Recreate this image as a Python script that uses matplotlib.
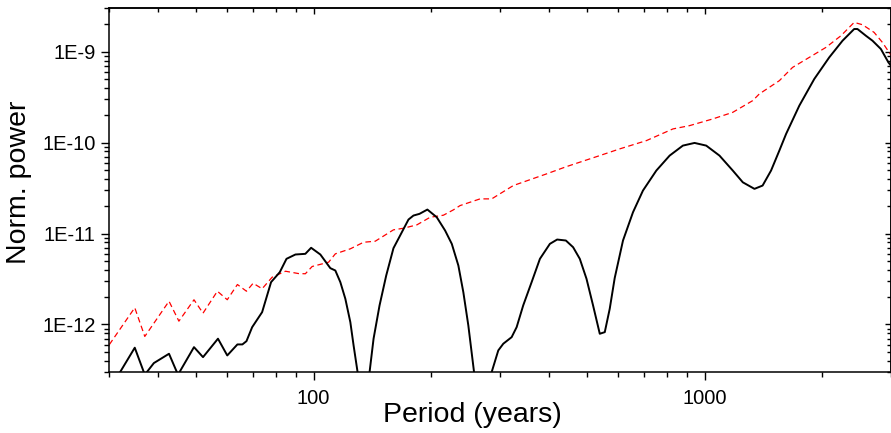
#!/usr/bin/env python3
"""Normalised power spectrum against period, with the red-noise reference."""

from __future__ import annotations

import numpy as np
import matplotlib

matplotlib.use("Agg")
import matplotlib.pyplot as plt
from matplotlib.ticker import FixedLocator, FuncFormatter, LogLocator, NullFormatter


OUTPUT_PATH = "out.png"

# spectrum (black, solid)
PERIOD_SPECTRUM = [
    30.0, 34.85, 36.97, 39.0, 42.64, 44.96, 49.4, 52.1, 56.9, 60.1,
    63.8, 65.7, 67.3, 69.6, 73.8, 77.8, 81.9, 85.2, 89.8, 95.2,
    98.5, 104.0, 110.3, 113.6, 117.0, 120.5, 124.1, 126.5, 129.5, 133.9,
    139.0, 142.3, 147.4, 153.3, 160.0, 166.4, 174.8, 180.0, 186.5, 195.4,
    206.5, 216.9, 225.6, 234.5, 241.5, 248.7, 257.2, 269.6, 285.4, 296.7,
    305.6, 321.0, 330.6, 343.6, 361.1, 379.2, 402.1, 419.7, 441.8, 461.1,
    479.6, 498.9, 518.6, 539.5, 555.6, 572.1, 589.1, 618.6, 656.1, 695.8,
    752.9, 814.3, 880.3, 943.0, 1010, 1092, 1181, 1253, 1342, 1408,
    1480, 1554, 1617, 1748, 1909, 2085, 2255, 2415, 2462, 2587,
    2690, 2826, 2955, 3050,
]
POWER_SPECTRUM = [
    1.9e-13, 5.55e-13, 2.8e-13, 3.76e-13, 4.76e-13, 2.8e-13, 5.63e-13, 4.37e-13, 6.97e-13, 4.56e-13,
    6.03e-13, 6.03e-13, 6.55e-13, 9.34e-13, 1.365e-12, 2.92e-12, 3.76e-12, 5.27e-12, 5.88e-12, 5.98e-12,
    6.97e-12, 5.88e-12, 4.16e-12, 3.92e-12, 2.92e-12, 1.916e-12, 1.06e-12, 5.88e-13, 3.0e-13, 5e-14,
    3.0e-13, 6.97e-13, 1.618e-12, 3.45e-12, 6.90e-12, 9.51e-12, 1.425e-11, 1.577e-11, 1.646e-11, 1.835e-11,
    1.51e-11, 1.079e-11, 7.70e-12, 4.45e-12, 2.26e-12, 9.75e-13, 3.0e-13, 5e-14, 3.0e-13, 5.18e-13,
    6.14e-13, 7.25e-13, 9.34e-13, 1.618e-12, 2.92e-12, 5.27e-12, 7.70e-12, 8.59e-12, 8.38e-12, 7.07e-12,
    5.27e-12, 3.18e-12, 1.618e-12, 7.90e-13, 8.23e-13, 1.488e-12, 3.24e-12, 8.38e-12, 1.714e-11, 2.97e-11,
    4.93e-11, 7.20e-11, 9.27e-11, 9.92e-11, 9.27e-11, 7.20e-11, 4.93e-11, 3.66e-11, 3.10e-11, 3.37e-11,
    4.93e-11, 8.17e-11, 1.246e-10, 2.55e-10, 5.01e-10, 8.66e-10, 1.321e-9, 1.776e-9, 1.776e-9, 1.499e-9,
    1.321e-9, 1.071e-9, 7.62e-10, 6.4e-10,
]

# reference level (red, dashed)
PERIOD_REFERENCE = [
    30.0, 34.85, 36.97, 42.64, 45.2, 49.4, 52.1, 56.7, 60.1, 63.8,
    67.3, 70.0, 73.8, 78.3, 84.7, 91.4, 95.2, 99.1, 109.2, 113.6,
    124.1, 134.2, 143.7, 160.0, 169.7, 183.7, 198.6, 214.7, 227.8, 236.9,
    266.5, 285.4, 324.1, 394.3, 443.6, 539.5, 606.7, 710, 830, 915.6,
    1050, 1181, 1328, 1381, 1554, 1680, 1854, 2045, 2234, 2415,
    2536, 2716, 2852, 2967, 3050,
]
POWER_REFERENCE = [
    6.0e-13, 1.527e-12, 7.38e-13, 1.80e-12, 1.087e-12, 1.868e-12, 1.331e-12, 2.32e-12, 1.87e-12, 2.75e-12,
    2.32e-12, 2.84e-12, 2.47e-12, 3.31e-12, 3.85e-12, 3.63e-12, 3.61e-12, 4.34e-12, 4.84e-12, 5.98e-12,
    6.79e-12, 8.02e-12, 8.23e-12, 1.098e-11, 1.143e-11, 1.246e-11, 1.51e-11, 1.59e-11, 1.822e-11, 2.03e-11,
    2.405e-11, 2.405e-11, 3.37e-11, 4.53e-11, 5.45e-11, 7.20e-11, 8.53e-11, 1.052e-10, 1.414e-10, 1.537e-10,
    1.822e-10, 2.153e-10, 2.894e-10, 3.43e-10, 4.8e-10, 6.72e-10, 8.66e-10, 1.115e-9, 1.499e-9, 2.10e-9,
    1.98e-9, 1.63e-9, 1.265e-9, 9.82e-10, 8.4e-10,
]

X_LIMITS = (30, 3000)
Y_LIMITS = (3e-13, 3e-9)
X_MAJOR = [100, 1000]
Y_MAJOR = [1e-12, 1e-11, 1e-10, 1e-9]
X_LABEL = "Period (years)"
Y_LABEL = "Norm. power"


def e_label(value: float, _pos: int) -> str:
    exponent = int(round(np.log10(value)))
    return f"1E{exponent}"


def set_log_locators(axis, majors: list[float]) -> None:
    axis.set_major_locator(FixedLocator(majors))
    axis.set_minor_locator(LogLocator(base=10, subs=np.arange(2, 10), numticks=20))
    axis.set_minor_formatter(NullFormatter())


def main() -> None:
    plt.rcParams["font.family"] = ["Liberation Sans", "DejaVu Sans"]

    fig = plt.figure(figsize=(8.91, 4.33), dpi=100)
    ax = fig.add_axes([0.1227, 0.1409, 0.8773, 0.8399])

    ax.plot(PERIOD_REFERENCE, POWER_REFERENCE, color="#ff0000", linewidth=0.9,
            dashes=(4.5, 2.8))
    ax.plot(PERIOD_SPECTRUM, POWER_SPECTRUM, color="black", linewidth=1.4)

    ax.set_xscale("log")
    ax.set_yscale("log")
    ax.set_xlim(*X_LIMITS)
    ax.set_ylim(*Y_LIMITS)

    set_log_locators(ax.xaxis, X_MAJOR)
    set_log_locators(ax.yaxis, Y_MAJOR)
    ax.xaxis.set_major_formatter(FuncFormatter(lambda v, p: f"{v:g}"))
    ax.yaxis.set_major_formatter(FuncFormatter(e_label))

    for spine in ax.spines.values():
        spine.set_linewidth(1.1)
    ax.tick_params(which="both", direction="out", width=1.0, labelsize=14.5,
                   top=False, right=False)
    ax.tick_params(which="major", length=6.0)
    ax.tick_params(which="minor", length=3.4)
    ax.tick_params(axis="x", which="major", pad=6.0)
    ax.tick_params(axis="y", which="major", pad=4.0)

    # mirrored axes: ticks pointing inwards, no labels
    top = ax.secondary_xaxis("top")
    right = ax.secondary_yaxis("right")
    set_log_locators(top.xaxis, X_MAJOR)
    set_log_locators(right.yaxis, Y_MAJOR)
    for sec in (top, right):
        sec.tick_params(which="both", direction="in", width=1.0,
                        labelleft=False, labelright=False, labeltop=False, labelbottom=False)
        sec.tick_params(which="major", length=4.5)
        sec.tick_params(which="minor", length=2.8)
        for spine in sec.spines.values():
            spine.set_linewidth(1.1)

    fig.text(472.5 / 891, 1 - 422 / 433, X_LABEL, fontsize=20.5, ha="center", va="baseline")
    fig.text(19 / 891, 1 - 182 / 433, Y_LABEL, fontsize=20.5, ha="center", va="center",
             rotation=90)

    fig.savefig(OUTPUT_PATH, dpi=100, facecolor="white")
    plt.close(fig)


if __name__ == "__main__":
    main()
